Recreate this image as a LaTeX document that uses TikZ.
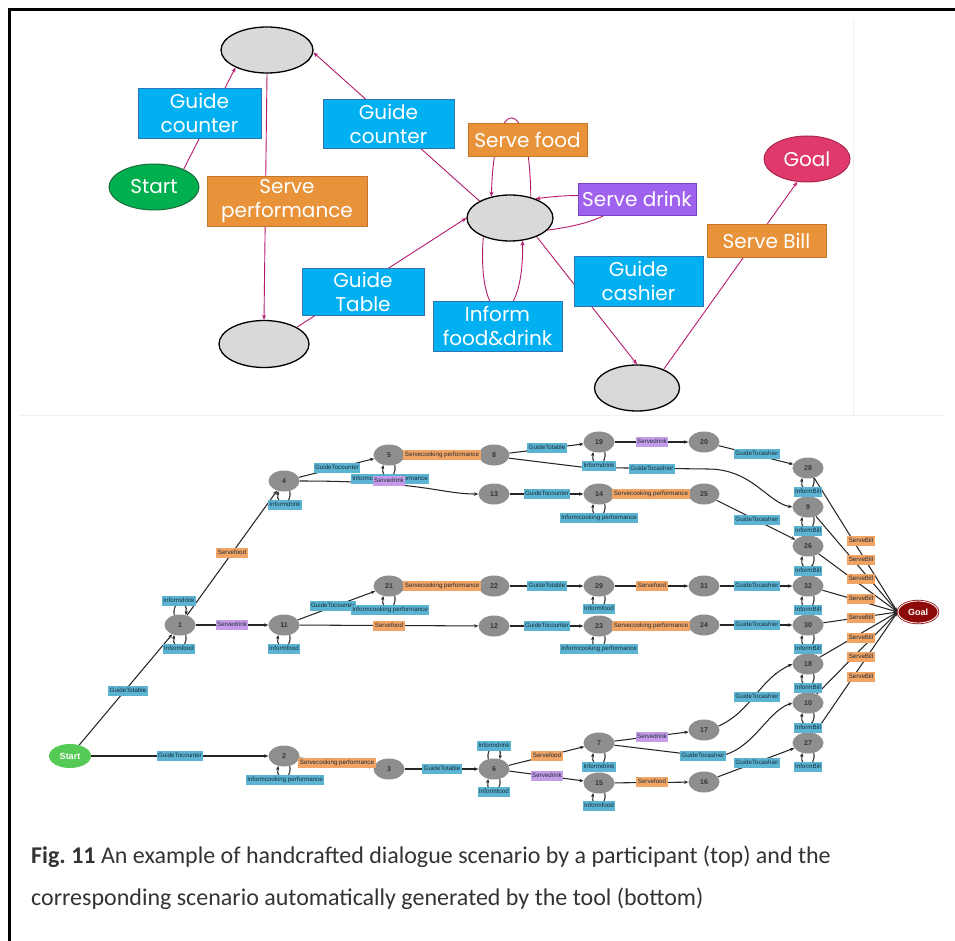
\documentclass[tikz,border=0pt]{standalone}
\usepackage{fontspec}
\setmainfont{Carlito}
\newfontfamily\topfont{Poppins}
\newfontfamily\grfont{Liberation Sans}
\usetikzlibrary{shapes.geometric,arrows.meta}
\pgfdeclarelayer{bg}
\pgfdeclarelayer{paper}
\pgfsetlayers{paper,bg,main}

% hand-drawn scenario palette
\definecolor{tblue}{HTML}{00B0F0}
\definecolor{tbluedk}{HTML}{2E75B6}
\definecolor{torange}{HTML}{E8933A}
\definecolor{torangedk}{HTML}{C5762B}
\definecolor{tpurple}{HTML}{9E62EE}
\definecolor{tpurpledk}{HTML}{7446C4}
\definecolor{tgreen}{HTML}{00B04F}
\definecolor{tgreendk}{HTML}{1E6B3A}
\definecolor{tgoal}{HTML}{E03A6C}
\definecolor{tgoaldk}{HTML}{A8284F}
\definecolor{tgray}{HTML}{D9D9D9}
\definecolor{tarrow}{HTML}{B31B6E}
% generated scenario palette
\definecolor{gblue}{HTML}{5AB4D2}
\definecolor{gorange}{HTML}{F2A464}
\definecolor{gpurple}{HTML}{C59CE8}
\definecolor{gnode}{HTML}{8E8E8E}
\definecolor{gstart}{HTML}{55CB55}
\definecolor{ggoal}{HTML}{8E0A0A}
\definecolor{gtext}{HTML}{1B2B3A}
\definecolor{captext}{HTML}{333333}

% self-loops of the generated graph
\newcommand\selfdown[1]{\draw[gedge] (#1.-60) to[out=-80,in=-100,distance=16pt] (#1.-120);}
\newcommand\selfup[1]{\draw[gedge] (#1.120) to[out=100,in=80,distance=16pt] (#1.60);}

\tikzset{
  tstate/.style={ellipse, draw=black, line width=1.3pt, fill=tgray,
    minimum width=90pt, minimum height=46pt, inner sep=0pt},
  tbox/.style n args={2}{rectangle, fill=#1, draw=#2, line width=0.9pt,
    text=white, font=\topfont\fontsize{20}{24}\selectfont, align=center, inner sep=0pt},
  tarr/.style={draw=tarrow, line width=0.9pt, -{Stealth[length=5pt,width=4pt]}},
  gst/.style={ellipse, fill=gnode, minimum width=31pt, minimum height=21pt, inner sep=0pt,
    text=black!80, font=\grfont\bfseries\fontsize{7}{8}\selectfont},
  glb/.style={rectangle, fill=#1, inner xsep=1.5pt, inner ysep=1.8pt, text=gtext,
    text height=4.8pt, text depth=1.4pt, font=\grfont\fontsize{6.2}{7}\selectfont},
  gedge/.style={draw=black!85, line width=1.05pt, -{Stealth[length=4.2pt,width=3.4pt]}},
}

\begin{document}
\begin{tikzpicture}[x=1pt,y=-1pt]
\useasboundingbox (0,0) rectangle (955,941);
\begin{pgfonlayer}{paper}
  \fill[white] (0,0) rectangle (955,941);
  % panel separators
  \draw[black!6, line width=0.8pt] (853,20) -- (853,415);
  \draw[black!6, line width=0.8pt] (20,415) -- (945,415);
\end{pgfonlayer}

% frame
\draw[line width=2.6pt] (9.3,941) -- (9.3,9.3) -- (955,9.3);

% ---------------- hand-crafted scenario ----------------
\node[tstate, minimum width=92pt] (sTop) at (267,50) {};
\node[tstate, minimum height=47pt] (sBL) at (264,344) {};
\node[tstate, minimum width=86pt] (sC) at (510,218) {};
\node[tstate, minimum width=85pt] (sBR) at (637,388) {};
\node[ellipse, fill=tgreen, draw=tgreendk, line width=1pt, minimum width=90pt, minimum height=46pt,
  text=white, font=\topfont\fontsize{20}{24}\selectfont] (tStart) at (154,187) {Start};
\node[ellipse, fill=tgoal, draw=tgoaldk, line width=1pt, minimum width=86pt, minimum height=46pt,
  text=white, font=\topfont\fontsize{20}{24}\selectfont] (tGoal) at (807,159) {Goal};

\node[tbox={tblue}{tbluedk}, minimum width=123pt, minimum height=50pt] (bGC1) at (199.5,113) {Guide\\counter};
\node[tbox={torange}{torangedk}, minimum width=160pt, minimum height=50pt] (bSP) at (287,201) {Serve\\performance};
\node[tbox={tblue}{tbluedk}, minimum width=131pt, minimum height=49pt] (bGC2) at (388.5,123.5) {Guide\\counter};
\node[tbox={tblue}{tbluedk}, minimum width=122pt, minimum height=47pt] (bGT) at (363,291.5) {Guide\\Table};
\node[tbox={torange}{torangedk}, minimum width=119pt, minimum height=33pt] (bSF) at (527.5,139.5) {Serve food};
\node[tbox={tpurple}{tpurpledk}, minimum width=118pt, minimum height=32pt] (bSD) at (637,199) {Serve drink};
\node[tbox={tblue}{tbluedk}, minimum width=129pt, minimum height=50pt] (bGCa) at (638.5,281) {Guide\\cashier};
\node[tbox={tblue}{tbluedk}, minimum width=129pt, minimum height=50pt] (bIFD) at (497.5,326) {Inform\\food\&drink};
\node[tbox={torange}{torangedk}, minimum width=119pt, minimum height=33pt] (bSB) at (766.5,240.5) {Serve Bill};

\begin{pgfonlayer}{bg}
  \draw[tarr] (tStart.31) -- (sTop.209);
  \draw[tarr] (sTop.south) -- (sBL.north);
  \draw[tarr] (sBL.27) -- (sC.west);
  \draw[tarr] (sC.151) -- (sTop.-3);
  \draw[tarr] (sC.45) .. controls (530,92) and (494,92) .. (sC.131);
  \draw[tarr] (sC.-18) .. controls (640,218) and (630,186) .. (sC.37);
  \draw[tarr] (sC.215) .. controls (476,335) and (524,335) .. (sC.-61);
  \draw[tarr] (sC.-35) -- (sBR.north);
  \draw[tarr] (sBR.35) -- (tGoal.247);
\end{pgfonlayer}

% ---------------- generated scenario ----------------
\node[ellipse, fill=gstart, minimum width=42pt, minimum height=24pt, inner sep=0pt,
  text=white, font=\grfont\bfseries\fontsize{9}{10}\selectfont] (gStart) at (70,756) {Start};
\node[ellipse, fill=ggoal, draw=ggoal, double=white, double distance=0.8pt, line width=0.8pt,
  minimum width=40pt, minimum height=22pt, inner sep=0pt,
  text=white, font=\grfont\bfseries\fontsize{9}{10}\selectfont] (gGoal) at (918,612) {Goal};

\node[gst] (n1) at (180,625) {1};
\node[gst] (n4) at (284,481) {4};
\node[gst] (n11) at (284,625) {11};
\node[gst] (n2) at (284,756) {2};
\node[gst] (n5) at (389,455) {5};
\node[gst] (n21) at (389,586) {21};
\node[gst] (n3) at (389,769) {3};
\node[gst] (n8) at (494,455) {8};
\node[gst] (n13) at (494,494) {13};
\node[gst] (n22) at (494,586) {22};
\node[gst] (n12) at (494,626) {12};
\node[gst] (n6) at (494,769) {6};
\node[gst] (n19) at (599,442) {19};
\node[gst] (n14) at (599,494) {14};
\node[gst] (n29) at (599,586) {29};
\node[gst] (n23) at (599,626) {23};
\node[gst] (n7) at (599,743) {7};
\node[gst] (n15) at (599,783) {15};
\node[gst] (n20) at (704,442) {20};
\node[gst] (n25) at (704,494) {25};
\node[gst] (n31) at (704,586) {31};
\node[gst] (n24) at (704,625) {24};
\node[gst] (n17) at (704,730) {17};
\node[gst] (n16) at (704,782) {16};
\node[gst] (n28) at (808,468) {28};
\node[gst] (n9) at (808,507) {9};
\node[gst] (n26) at (808,546) {26};
\node[gst] (n32) at (808,586) {32};
\node[gst] (n30) at (808,625) {30};
\node[gst] (n18) at (808,664) {18};
\node[gst] (n10) at (808,703) {10};
\node[gst] (n27) at (808,743) {27};

\coordinate (k89a) at (585,467.5);
\coordinate (k89b) at (708,469);
\coordinate (k710) at (712,757);

\begin{pgfonlayer}{bg}
  \draw[gedge] (gStart) -- (n1);
  \draw[gedge] (gStart) -- (n2);
  \draw[gedge] (n1) -- (n4);
  \draw[gedge] (n1) -- (n11);
  \draw[gedge] (n4) -- (n5);
  \draw[gedge] (n4.east) .. controls (425,481) and (440,494) .. (n13.west);
  \draw[gedge] (n5) -- (n8);
  \draw[gedge] (n8) -- (n19);
  \draw[gedge] (n8.-12) -- (k89a) -- (k89b) .. controls (752,469) and (768,503) .. (n9.west);
  \draw[gedge] (n19) -- (n20);
  \draw[gedge] (n20) -- (n28);
  \draw[gedge] (n13) -- (n14);
  \draw[gedge] (n14) -- (n25);
  \draw[gedge] (n25) -- (n26);
  \draw[gedge] (n11) -- (n21);
  \draw[gedge] (n11) -- (n12);
  \draw[gedge] (n21) -- (n22);
  \draw[gedge] (n22) -- (n29);
  \draw[gedge] (n29) -- (n31);
  \draw[gedge] (n31) -- (n32);
  \draw[gedge] (n12) -- (n23);
  \draw[gedge] (n23) -- (n24);
  \draw[gedge] (n24) -- (n30);
  \draw[gedge] (n2) -- (n3);
  \draw[gedge] (n3) -- (n6);
  \draw[gedge] (n6) -- (n7);
  \draw[gedge] (n6) -- (n15);
  \draw[gedge] (n7) -- (n17);
  \draw[gedge] (n7.-8) -- (k710) .. controls (752,755) and (765,712) .. (n10.west);
  \draw[gedge] (n15) -- (n16);
  \draw[gedge] (n17.15) to[out=25,in=205] (n18.west);
  \draw[gedge] (n16) -- (n27);
  \foreach \n in {n28,n9,n26,n32,n30,n18,n10,n27} {\draw[gedge] (\n) -- (gGoal.west);}
  % self-loops
  \selfup{n1} \selfdown{n1} \selfdown{n4} \selfdown{n11} \selfdown{n5}
  \selfdown{n2} \selfdown{n21} \selfup{n6} \selfdown{n6}
  \selfdown{n19} \selfdown{n14} \selfdown{n29} \selfdown{n23} \selfdown{n7} \selfdown{n15}
  \foreach \n in {n28,n9,n26,n32,n30,n18,n10,n27} {\selfdown{\n}}
\end{pgfonlayer}

% edge and loop labels
\node[glb=gblue] (lS1) at (128,691) {GuideTotable};
\node[glb=gblue] (lS2) at (180,756) {GuideTocounter};
\node[glb=gblue] (l1a) at (179,601) {Informdrink};
\node[glb=gblue] (l1b) at (179,649) {Informfood};
\node[glb=gorange] (l1to4) at (232,553) {Servefood};
\node[glb=gpurple] (l1to11) at (232,625) {Servedrink};
\node[glb=gblue] (l4) at (285,505) {Informdrink};
\node[glb=gblue] (l11) at (284,649) {Informfood};
\node[glb=gblue] (l4to5) at (337,468) {GuideTocounter};
\node[glb=gblue] (l5) at (390,479) {Informcooking performance};
\node[glb=gpurple] (l4to13) at (389,481) {Servedrink};
\node[glb=gorange] (l5to8) at (442,455) {Servecooking performance};
\node[glb=gblue] (l8to19) at (547,448) {GuideTotable};
\node[glb=gblue] (l13to14) at (547,494) {GuideTocounter};
\node[glb=gblue] (l19) at (599,466) {Informdrink};
\node[glb=gpurple] (l19to20) at (652,442) {Servedrink};
\node[glb=gblue] (l8to9) at (652,469) {GuideTocashier};
\node[glb=gblue] (l20to28) at (757,454) {GuideTocashier};
\node[glb=gblue] (l14) at (599,518) {Informcooking performance};
\node[glb=gorange] (l14to25) at (651,494) {Servecooking performance};
\node[glb=gblue] (l25to26) at (757,520) {GuideTocashier};
\node[glb=gblue] (l11to21) at (333,606) {GuideTocounter};
\node[glb=gblue] (l21) at (390,610) {Informcooking performance};
\node[glb=gorange] (l21to22) at (442,586) {Servecooking performance};
\node[glb=gblue] (l22to29) at (547,586) {GuideTotable};
\node[glb=gblue] (l29) at (599,609) {Informfood};
\node[glb=gorange] (l29to31) at (652,586) {Servefood};
\node[glb=gblue] (l31to32) at (757,586) {GuideTocashier};
\node[glb=gorange] (l11to12) at (389,626) {Servefood};
\node[glb=gblue] (l12to23) at (547,626) {GuideTocounter};
\node[glb=gblue] (l23) at (599,649) {Informcooking performance};
\node[glb=gorange] (l23to24) at (651,626) {Servecooking performance};
\node[glb=gblue] (l24to30) at (757,625) {GuideTocashier};
\node[glb=gblue] (l2) at (285,780) {Informcooking performance};
\node[glb=gorange] (l2to3) at (337,763) {Servecooking performance};
\node[glb=gblue] (l3to6) at (442,769) {GuideTotable};
\node[glb=gblue] (l6a) at (494,746) {Informdrink};
\node[glb=gblue] (l6b) at (494,792) {Informfood};
\node[glb=gorange] (l6to7) at (547,756) {Servefood};
\node[glb=gpurple] (l6to15) at (547,776) {Servedrink};
\node[glb=gblue] (l7) at (599,767) {Informdrink};
\node[glb=gblue] (l15) at (599,806) {Informfood};
\node[glb=gpurple] (l7to17) at (652,737) {Servedrink};
\node[glb=gblue] (l7to10) at (703,756) {GuideTocashier};
\node[glb=gorange] (l15to16) at (652,782) {Servefood};
\node[glb=gblue] (l17to18) at (757,697) {GuideTocashier};
\node[glb=gblue] (l16to27) at (757,763) {GuideTocashier};
\foreach \y [count=\i] in {492,531,571,610,649,688,728,767}
  {\node[glb=gblue] (lIB\i) at (808,\y) {InformBill};}
\foreach \y [count=\i] in {541,560,579,599,618,638,657,677}
  {\node[glb=gorange] (lSB\i) at (861,\y) {ServeBill};}

% caption
\node[anchor=west, text=captext, font=\fontsize{24}{28}\selectfont, inner sep=0pt] (cap1) at (31,857)
  {\textbf{Fig.\ 11} An example of handcrafted dialogue scenario by a participant (top) and the};
\node[anchor=west, text=captext, font=\fontsize{24}{28}\selectfont, inner sep=0pt] (cap2) at (31,899)
  {corresponding scenario automatically generated by the tool (bottom)};
\end{tikzpicture}
\end{document}
